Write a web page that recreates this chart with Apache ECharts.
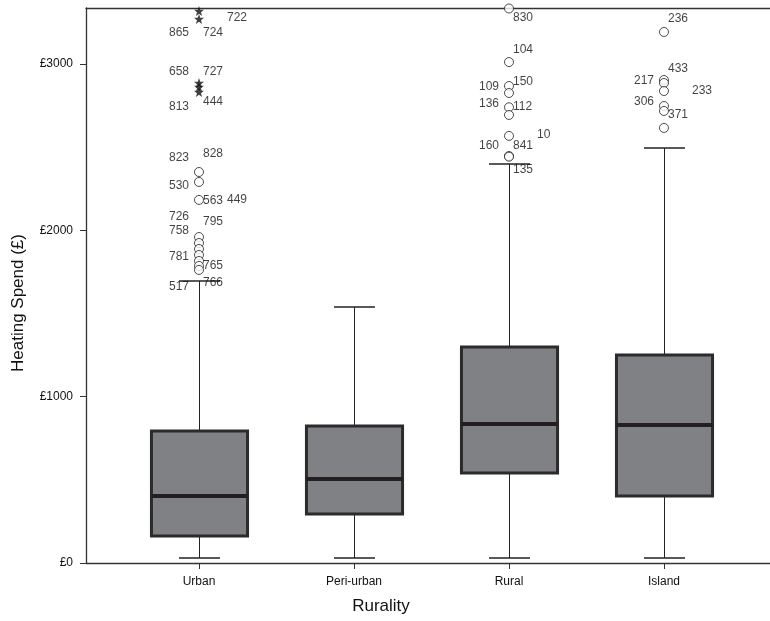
<!DOCTYPE html>
<html>
<head>
<meta charset="utf-8">
<script src="https://cdn.jsdelivr.net/npm/echarts@6/dist/echarts.min.js"></script>
<style>
  html, body { margin: 0; padding: 0; background: #fff; }
  #chart { width: 770px; height: 621px; }
</style>
</head>
<body>
<div id="chart"></div>
<script>
// box summaries (£)
const categories = ['Urban', 'Peri-urban', 'Rural', 'Island'];
const whiskerLow = [30, 30, 30, 30];
const q1 = [162, 295, 541, 403];
const median = [403, 505, 836, 830];
const q3 = [794, 824, 1299, 1251];
const whiskerHigh = [1696, 1539, 2399, 2495];

// outliers: [category index, value]
const extremes = [[0, 3319], [0, 3271], [0, 2886], [0, 2862], [0, 2832]];
const outliers = [
    [0, 2351], [0, 2291], [0, 2183], [0, 1960], [0, 1924], [0, 1888], [0, 1852], [0, 1816], [0, 1786], [0, 1762],
    [2, 3334], [2, 3012], [2, 2868], [2, 2826], [2, 2740], [2, 2694], [2, 2568], [2, 2447], [2, 2443],
    [3, 3193], [3, 2904], [3, 2886], [3, 2838], [3, 2748], [3, 2718], [3, 2616]
];

// case labels next to the outliers
const labelCat = [0, 0, 0, 0, 0, 0, 0, 0, 0, 0, 0, 0, 0, 0, 0, 0, 0, 0, 0,
    2, 2, 2, 2, 2, 2, 2, 2, 2, 2,
    3, 3, 3, 3, 3, 3];
const labelIds = ['722', '865', '724', '658', '727', '813', '444', '823', '828', '530', '563', '449', '726', '795', '758', '781', '765', '517', '766',
    '830', '104', '109', '150', '136', '112', '10', '160', '841', '135',
    '236', '433', '217', '233', '306', '371'];
const labelValues = [3277, 3187, 3187, 2952, 2952, 2742, 2772, 2435, 2459, 2267, 2177, 2183, 2081, 2051, 1996, 1840, 1786, 1660, 1684,
    3277, 3085, 2862, 2892, 2760, 2742, 2574, 2508, 2508, 2363,
    3271, 2971, 2898, 2838, 2772, 2694];
const labelSides = ['RR', 'L', 'R', 'L', 'R', 'L', 'R', 'L', 'R', 'L', 'R', 'RR', 'L', 'R', 'L', 'L', 'R', 'L', 'R',
    'R', 'R', 'L', 'R', 'L', 'R', 'RR', 'L', 'R', 'R',
    'R', 'R', 'L', 'RR', 'L', 'R'];

const yTicks = [0, 1000, 2000, 3000];

const FONT = 'Liberation Sans';
const INK = '#111';

const chart = echarts.init(document.getElementById('chart'));

const boxData = categories.map((c, i) => [i, whiskerLow[i], q1[i], median[i], q3[i], whiskerHigh[i]]);

const renderBox = (params, api) => {
    const x = api.value(0);
    const lo = api.coord([x, api.value(1)]);
    const b1 = api.coord([x, api.value(2)]);
    const md = api.coord([x, api.value(3)]);
    const b3 = api.coord([x, api.value(4)]);
    const hi = api.coord([x, api.value(5)]);
    const band = api.size([1, 0])[0];
    const bw = band * 0.62;
    const cw = band * 0.265;
    const cx = Math.round(lo[0]) + 0.5;
    const thin = { stroke: '#222', lineWidth: 1 };
    const cap = { stroke: '#222', lineWidth: 1.5 };
    return {
        type: 'group',
        children: [
            { type: 'line', shape: { x1: cx, y1: lo[1], x2: cx, y2: b1[1] }, style: thin },
            { type: 'line', shape: { x1: cx, y1: b3[1], x2: cx, y2: hi[1] }, style: thin },
            { type: 'line', shape: { x1: cx - cw / 2, y1: lo[1], x2: cx + cw / 2, y2: lo[1] }, style: cap },
            { type: 'line', shape: { x1: cx - cw / 2, y1: hi[1], x2: cx + cw / 2, y2: hi[1] }, style: cap },
            {
                type: 'rect',
                shape: { x: cx - bw / 2, y: b3[1], width: bw, height: b1[1] - b3[1] },
                style: { fill: '#808184', stroke: '#2b2b2b', lineWidth: 3 }
            },
            { type: 'line', shape: { x1: cx - bw / 2, y1: md[1], x2: cx + bw / 2, y2: md[1] }, style: { stroke: '#231f20', lineWidth: 4 } }
        ]
    };
};

const sideLabel = (side) => {
    if (side === 'L') return { position: 'left', distance: 10 };
    if (side === 'RR') return { position: 'right', distance: 28 };
    return { position: 'right', distance: 4 };
};

const labelData = labelIds.map((id, i) => ({
    value: [labelCat[i], labelValues[i]],
    name: id,
    label: sideLabel(labelSides[i])
}));

const option = {
    animation: false,
    grid: { left: 86, right: 0, top: 8, bottom: 58 },
    xAxis: [
        {
            type: 'value',
            min: -0.729,
            max: 3.684,
            name: 'Rurality',
            nameLocation: 'middle',
            nameGap: 35,
            nameTextStyle: { fontFamily: FONT, fontSize: 17, color: INK, padding: [0, 94, 0, 0] },
            axisLine: { show: true, onZero: false, lineStyle: { color: '#333', width: 1.3 } },
            axisTick: { show: true, length: 6, customValues: [0, 1, 2, 3], lineStyle: { color: '#333' } },
            axisLabel: {
                customValues: [0, 1, 2, 3],
                formatter: (v) => categories[Math.round(v)] || '',
                fontFamily: FONT, fontSize: 12, color: INK, margin: 13
            },
            splitLine: { show: false }
        },
        {
            type: 'value',
            position: 'top',
            min: -0.729,
            max: 3.684,
            axisLine: { show: true, onZero: false, lineStyle: { color: '#333', width: 1.3 } },
            axisTick: { show: false },
            axisLabel: { show: false },
            splitLine: { show: false }
        }
    ],
    yAxis: {
        type: 'value',
        min: 0,
        max: 3337,
        interval: 1000,
        name: 'Heating Spend (£)',
        nameLocation: 'middle',
        nameGap: 59,
        nameTextStyle: { fontFamily: FONT, fontSize: 17, color: INK, padding: [0, 35, 0, 0] },
        axisLine: { show: true, onZero: false, lineStyle: { color: '#333', width: 1.3 } },
        axisTick: { show: true, length: 6, customValues: yTicks, lineStyle: { color: '#333' } },
        axisLabel: {
            customValues: yTicks,
            formatter: (v) => '£' + v,
            fontFamily: FONT, fontSize: 12, color: INK, margin: 13
        },
        splitLine: { show: false }
    },
    series: [
        {
            type: 'custom',
            renderItem: renderBox,
            encode: { x: 0, y: [1, 2, 3, 4, 5] },
            data: boxData,
            z: 2
        },
        {
            type: 'scatter',
            data: outliers,
            symbol: 'circle',
            symbolSize: 9,
            clip: false,
            itemStyle: { color: '#fff', borderColor: '#222', borderWidth: 1 },
            z: 3
        },
        {
            type: 'scatter',
            data: extremes,
            symbol: 'path://M0,-10L2.35,-3.24L9.51,-3.09L3.8,1.24L5.88,8.09L0,4L-5.88,8.09L-3.8,1.24L-9.51,-3.09L-2.35,-3.24Z',
            symbolSize: 10,
            clip: false,
            itemStyle: { color: '#111' },
            z: 3
        },
        {
            type: 'scatter',
            data: labelData,
            symbolSize: 0,
            clip: false,
            silent: true,
            label: {
                show: true,
                formatter: (p) => p.name,
                fontFamily: FONT,
                fontSize: 12,
                color: INK
            },
            z: 4
        }
    ]
};

chart.setOption(option);
</script>
</body>
</html>
